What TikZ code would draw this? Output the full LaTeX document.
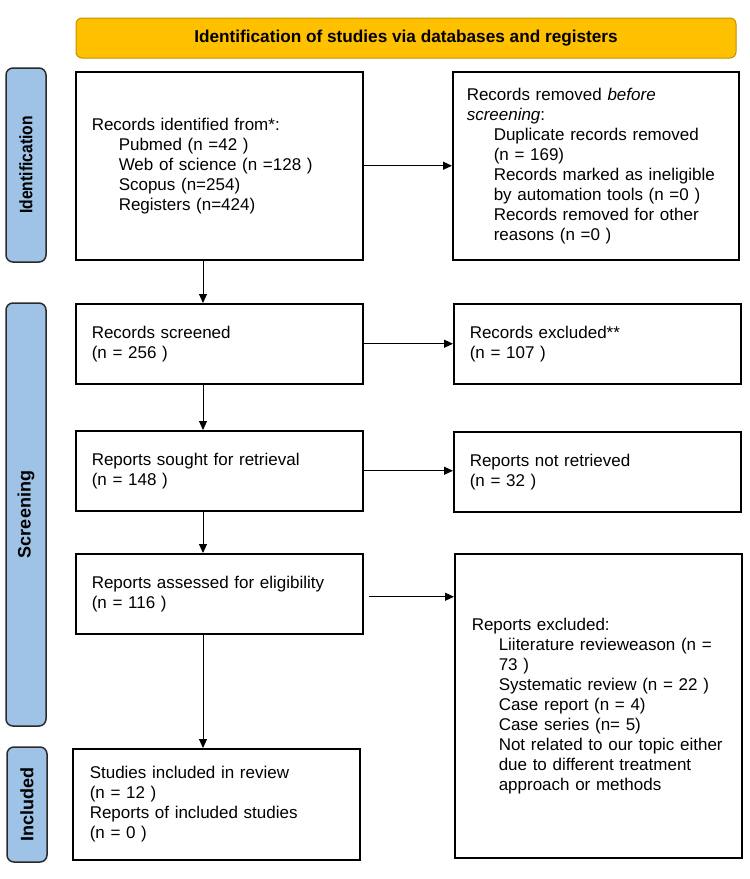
\documentclass[tikz,border=0pt]{standalone}
\usepackage{fontspec}
\usepackage{graphicx}
\setmainfont{Liberation Sans}
\usetikzlibrary{arrows.meta,calc}
\definecolor{gold}{HTML}{FFC000}
\definecolor{goldline}{HTML}{C39200}
\definecolor{sideblue}{HTML}{9FC3E7}
\definecolor{sideline}{HTML}{2A2A2A}
\begin{document}
\begin{tikzpicture}[x=1pt,y=-1pt,
  box/.style={draw=black, line width=1.5pt, fill=white, inner sep=0pt, align=left,
    anchor=north west, font=\fontsize{17}{20}\selectfont},
  side/.style={draw=sideline, line width=1.5pt, fill=sideblue, rounded corners=7pt,
    rotate=90, inner sep=0pt, minimum height=40pt, font=\bfseries\fontsize{18}{20}\selectfont},
  banner/.style={draw=goldline, line width=1pt, fill=gold, rounded corners=6pt,
    inner sep=0pt, font=\bfseries\fontsize{17.2}{20}\selectfont},
  arr/.style={line width=0.9pt, -{Triangle[length=9pt,width=8pt]}}]
\useasboundingbox (0,0) rectangle (750,879);
\def\ind{\hspace*{27pt}}

\node[banner, minimum width=660pt, minimum height=40pt] (ban) at (406,38)
  {Identification of studies via databases and registers};

\node[side, minimum width=194pt] (sid) at (26,165) {\scalebox{0.87}[1]{Identification}};
\node[side, minimum width=423pt] (ssc) at (26,514.5) {Screening};
\node[side, minimum width=115pt] (sin) at (27,804.5) {Included};

\node[box, minimum width=287pt, minimum height=188pt, text width=255pt] (b1) at (75,71)
  {Records identified from*:\\
   \ind Pubmed (n =42 )\\
   \ind Web of science (n =128 )\\
   \ind Scopus (n=254)\\
   \ind Registers (n=424)};

\node[box, minimum width=286pt, minimum height=188pt, text width=258pt] (b2) at (452,71)
  {Records removed \textit{before}\\
   \textit{screening}:\\
   \ind Duplicate records removed\\
   \ind (n = 169)\\
   \ind Records marked as ineligible\\
   \ind by automation tools (n =0 )\\
   \ind Records removed for other\\
   \ind reasons (n =0 )};

\node[box, minimum width=287pt, minimum height=80pt, text width=255pt] (b3) at (75,303)
  {Records screened\\(n = 256 )};
\node[box, minimum width=287pt, minimum height=80pt, text width=255pt] (b4) at (453,303)
  {Records excluded**\\(n = 107 )};

\node[box, minimum width=287pt, minimum height=80pt, text width=255pt] (b5) at (75,430)
  {Reports sought for retrieval\\(n = 148 )};
\node[box, minimum width=287pt, minimum height=80pt, text width=255pt] (b6) at (453,431)
  {Reports not retrieved\\(n = 32 )};

\node[box, minimum width=287pt, minimum height=80pt, text width=255pt] (b7) at (75,553)
  {Reports assessed for eligibility\\(n = 116 )};
\node[box, minimum width=287pt, minimum height=304pt, text width=253pt] (b8) at (454,553)
  {Reports excluded:\\
   \ind Liiterature revieweason (n =\\
   \ind 73 )\\
   \ind Systematic review (n = 22 )\\
   \ind Case report (n = 4)\\
   \ind Case series (n= 5)\\
   \ind Not related to our topic either\\
   \ind due to different treatment\\
   \ind approach or methods};

\node[box, minimum width=287pt, minimum height=111pt, text width=253pt] (b9) at (72,748)
  {Studies included in review\\
   (n = 12 )\\
   Reports of included studies\\
   (n = 0 )};

\coordinate (ax) at (203,0);
\draw[arr] (b1.east) -- (b2.west);
\draw[arr] (b3.east) -- (b4.west);
\draw[arr] (b5.east) -- (b5.east -| b6.west);
\draw[arr, shorten <=5pt] ($(b7.east)+(0,3)$) -- ($(b7.east -| b8.west)+(0,3)$);
\draw[arr] (ax |- b1.south) -- (ax |- b3.north);
\draw[arr] (ax |- b3.south) -- (ax |- b5.north);
\draw[arr] (ax |- b5.south) -- (ax |- b7.north);
\draw[arr] (ax |- b7.south) -- (ax |- b9.north);
\end{tikzpicture}
\end{document}
